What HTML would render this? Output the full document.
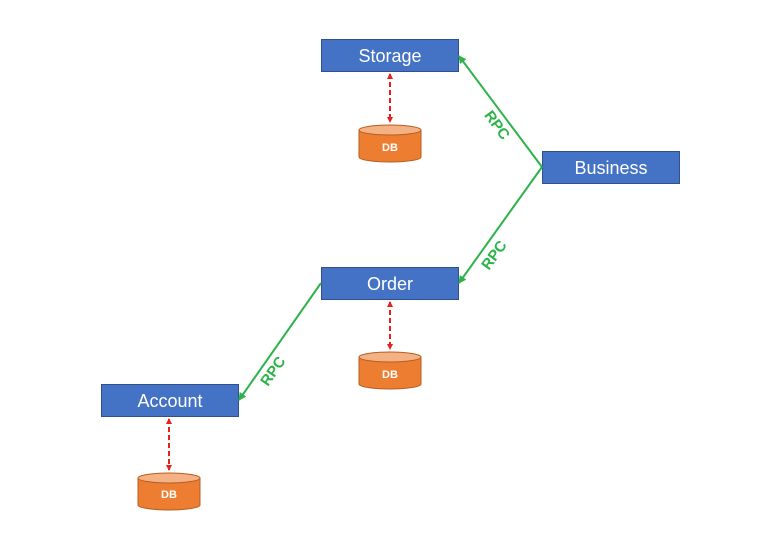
<!DOCTYPE html>
<html><head><style>
body{margin:0;background:#fff;}
svg text{font-family:"Liberation Sans",sans-serif;}
</style></head><body>
<svg width="768" height="536" xmlns="http://www.w3.org/2000/svg">
<defs>
<marker id="g" markerWidth="8" markerHeight="8" refX="7" refY="4" orient="auto" markerUnits="userSpaceOnUse"><path d="M0,0 L8,4 L0,8 z" fill="#2db34a"/></marker>
<marker id="r" markerWidth="6" markerHeight="6" refX="5" refY="3" orient="auto-start-reverse" markerUnits="userSpaceOnUse"><path d="M0,0 L6,3 L0,6 z" fill="#e8201c"/></marker>
</defs>
<g fill="#4472c4" stroke="#2f528f" stroke-width="1">
<rect x="321.5" y="39.5" width="137" height="32"/>
<rect x="542.5" y="151.5" width="137" height="32"/>
<rect x="321.5" y="267.5" width="137" height="32"/>
<rect x="101.5" y="384.5" width="137" height="32"/>
</g>
<g fill="#fff" font-size="18" text-anchor="middle">
<text x="390" y="62">Storage</text>
<text x="611" y="174">Business</text>
<text x="390" y="290">Order</text>
<text x="170" y="407">Account</text>
</g>
<g stroke="#2db34a" stroke-width="2" fill="none">
<polyline points="542,167 459,56" marker-end="url(#g)"/>
<polyline points="542,167 459,283" marker-end="url(#g)"/>
<polyline points="321,283 239,400" marker-end="url(#g)"/>
</g>
<g fill="#2db34a" font-size="15" font-weight="bold" text-anchor="middle">
<text transform="translate(493,128) rotate(54)">RPC</text>
<text transform="translate(498,258) rotate(-54)">RPC</text>
<text transform="translate(277,374) rotate(-55)">RPC</text>
</g>
<g stroke="#e8201c" stroke-width="2" stroke-dasharray="5,3">
<line x1="390" y1="74" x2="390" y2="122" marker-start="url(#r)" marker-end="url(#r)"/>
<line x1="390" y1="302" x2="390" y2="349" marker-start="url(#r)" marker-end="url(#r)"/>
<line x1="169" y1="419" x2="169" y2="470" marker-start="url(#r)" marker-end="url(#r)"/>
</g>
<g stroke="#b85d20" stroke-width="1">
<g transform="translate(359,125)"><path d="M0,5 V32 A31,5 0 0 0 62,32 V5 Z" fill="#ed7d31"/><ellipse cx="31" cy="5" rx="31" ry="5" fill="#f4b183"/></g>
<g transform="translate(359,352)"><path d="M0,5 V32 A31,5 0 0 0 62,32 V5 Z" fill="#ed7d31"/><ellipse cx="31" cy="5" rx="31" ry="5" fill="#f4b183"/></g>
<g transform="translate(138,473)"><path d="M0,5 V32 A31,5 0 0 0 62,32 V5 Z" fill="#ed7d31"/><ellipse cx="31" cy="5" rx="31" ry="5" fill="#f4b183"/></g>
</g>
<g fill="#fff" font-size="11" font-weight="bold" text-anchor="middle">
<text x="390" y="151">DB</text>
<text x="390" y="378">DB</text>
<text x="169" y="498">DB</text>
</g>
</svg>
</body></html>
